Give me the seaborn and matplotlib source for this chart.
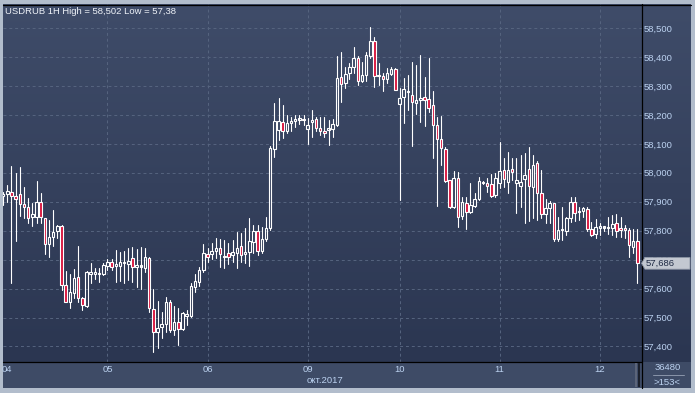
import numpy as np
import pandas as pd
import seaborn as sns
import matplotlib.pyplot as plt
from matplotlib.colors import LinearSegmentedColormap
from matplotlib.patches import Rectangle, Polygon
from matplotlib.lines import Line2D

# hourly candles, USDRUB, 03.10 last hour .. 12.10
opens = [
    57.920, 57.928, 57.932, 57.919, 57.927, 57.891, 57.881, 57.846, 57.848, 57.898,
    57.843, 57.753, 57.777, 57.799, 57.817, 57.612, 57.555, 57.584, 57.639, 57.566,
    57.541, 57.649, 57.651, 57.650, 57.650, 57.678, 57.692, 57.678, 57.679, 57.687,
    57.684, 57.705, 57.676, 57.676, 57.672, 57.705, 57.528, 57.449, 57.466, 57.477,
    57.553, 57.457, 57.483, 57.459, 57.506, 57.506, 57.606, 57.624, 57.664, 57.718,
    57.718, 57.731, 57.739, 57.709, 57.722, 57.716, 57.722, 57.748, 57.718, 57.727,
    57.762, 57.799, 57.730, 57.771, 57.810, 58.081, 58.147, 58.174, 58.144, 58.171,
    58.180, 58.183, 58.186, 58.150, 58.177, 58.186, 58.154, 58.141, 58.148, 58.150,
    58.165, 58.330, 58.309, 58.344, 58.364, 58.395, 58.318, 58.338, 58.404, 58.455,
    58.338, 58.334, 58.324, 58.341, 58.357, 58.236, 58.261, 58.278, 58.269, 58.240,
    58.252, 58.261, 58.255, 58.234, 58.165, 58.116, 58.081, 57.975, 57.883, 57.981,
    57.851, 57.897, 57.863, 57.886, 57.908, 57.969, 57.964, 57.960, 57.923, 57.964,
    58.009, 57.969, 58.013, 57.964, 57.955, 57.977, 58.012, 57.952, 58.035, 57.929,
    57.858, 57.877, 57.894, 57.770, 57.802, 57.798, 57.843, 57.900, 57.869, 57.869,
    57.875, 57.805, 57.787, 57.810, 57.810, 57.808, 57.810, 57.825, 57.810, 57.810,
    57.802, 57.745, 57.765,
]
highs = [
    57.935, 57.958, 58.023, 57.998, 58.019, 57.950, 57.912, 57.897, 57.971, 57.929,
    57.845, 57.837, 57.871, 57.820, 57.820, 57.661, 57.650, 57.668, 57.747, 57.570,
    57.661, 57.687, 57.672, 57.672, 57.687, 57.702, 57.702, 57.733, 57.727, 57.730,
    57.739, 57.745, 57.736, 57.742, 57.741, 57.708, 57.598, 57.557, 57.520, 57.570,
    57.560, 57.540, 57.532, 57.518, 57.526, 57.618, 57.649, 57.675, 57.753, 57.739,
    57.757, 57.774, 57.771, 57.768, 57.757, 57.768, 57.796, 57.791, 57.808, 57.843,
    57.820, 57.820, 57.813, 57.848, 58.092, 58.242, 58.257, 58.234, 58.199, 58.194,
    58.199, 58.199, 58.199, 58.190, 58.217, 58.194, 58.194, 58.194, 58.182, 58.186,
    58.403, 58.416, 58.366, 58.380, 58.433, 58.403, 58.384, 58.416, 58.502, 58.470,
    58.378, 58.346, 58.363, 58.364, 58.361, 58.292, 58.326, 58.338, 58.384, 58.372,
    58.407, 58.332, 58.395, 58.282, 58.194, 58.196, 58.088, 57.976, 58.006, 58.004,
    57.917, 57.917, 57.963, 57.931, 57.984, 57.972, 57.981, 57.995, 57.998, 58.108,
    58.050, 58.073, 58.050, 58.050, 58.061, 58.067, 58.090, 58.061, 58.041, 58.010,
    57.908, 57.902, 57.895, 57.848, 57.883, 57.848, 57.917, 57.917, 57.883, 57.883,
    57.883, 57.831, 57.839, 57.826, 57.817, 57.846, 57.854, 57.857, 57.846, 57.820,
    57.808, 57.805, 57.805,
]
lows = [
    57.889, 57.900, 57.618, 57.764, 57.852, 57.843, 57.825, 57.817, 57.825, 57.825,
    57.719, 57.710, 57.748, 57.776, 57.595, 57.553, 57.534, 57.566, 57.555, 57.526,
    57.537, 57.618, 57.633, 57.624, 57.647, 57.664, 57.664, 57.623, 57.626, 57.618,
    57.630, 57.624, 57.605, 57.598, 57.658, 57.518, 57.380, 57.394, 57.428, 57.451,
    57.449, 57.440, 57.405, 57.456, 57.474, 57.503, 57.589, 57.610, 57.656, 57.691,
    57.702, 57.705, 57.676, 57.672, 57.685, 57.693, 57.670, 57.693, 57.687, 57.679,
    57.722, 57.716, 57.722, 57.765, 57.802, 58.056, 58.113, 58.119, 58.136, 58.145,
    58.159, 58.167, 58.164, 58.099, 58.125, 58.144, 58.130, 58.122, 58.097, 58.122,
    58.161, 58.245, 58.292, 58.323, 58.344, 58.303, 58.315, 58.318, 58.395, 58.297,
    58.303, 58.283, 58.311, 58.338, 58.286, 57.906, 58.173, 58.217, 58.092, 58.203,
    58.176, 58.162, 58.211, 58.050, 57.886, 58.027, 57.967, 57.880, 57.880, 57.812,
    57.839, 57.805, 57.860, 57.883, 57.906, 57.960, 57.935, 57.917, 57.917, 57.946,
    57.950, 57.931, 57.975, 57.860, 57.883, 57.825, 57.833, 57.843, 57.837, 57.843,
    57.825, 57.825, 57.765, 57.765, 57.768, 57.785, 57.831, 57.835, 57.837, 57.846,
    57.800, 57.782, 57.774, 57.786, 57.800, 57.788, 57.785, 57.779, 57.779, 57.774,
    57.710, 57.722, 57.620,
]
closes = [
    57.928, 57.937, 57.919, 57.909, 57.891, 57.881, 57.843, 57.856, 57.898, 57.846,
    57.753, 57.777, 57.794, 57.816, 57.612, 57.555, 57.587, 57.637, 57.566, 57.543,
    57.656, 57.658, 57.656, 57.654, 57.681, 57.691, 57.676, 57.686, 57.693, 57.691,
    57.695, 57.673, 57.680, 57.678, 57.708, 57.532, 57.449, 57.463, 57.477, 57.553,
    57.457, 57.483, 57.459, 57.514, 57.511, 57.609, 57.626, 57.664, 57.722, 57.710,
    57.731, 57.739, 57.718, 57.714, 57.710, 57.725, 57.739, 57.716, 57.727, 57.764,
    57.799, 57.730, 57.771, 57.808, 58.087, 58.179, 58.179, 58.145, 58.171, 58.179,
    58.187, 58.187, 58.182, 58.164, 58.182, 58.154, 58.144, 58.139, 58.151, 58.167,
    58.326, 58.306, 58.341, 58.364, 58.395, 58.317, 58.338, 58.407, 58.455, 58.335,
    58.334, 58.324, 58.346, 58.357, 58.286, 58.257, 58.289, 58.279, 58.243, 58.251,
    58.258, 58.252, 58.223, 58.165, 58.116, 58.084, 57.973, 57.883, 57.981, 57.848,
    57.900, 57.863, 57.888, 57.908, 57.973, 57.964, 57.955, 57.921, 57.981, 58.006,
    57.978, 58.009, 58.004, 57.975, 57.969, 57.992, 57.954, 58.027, 57.929, 57.858,
    57.879, 57.894, 57.770, 57.802, 57.805, 57.843, 57.900, 57.862, 57.864, 57.877,
    57.805, 57.785, 57.812, 57.815, 57.812, 57.811, 57.823, 57.800, 57.803, 57.803,
    57.750, 57.764, 57.687,
]

day_labels = ["04", "05", "06", "09", "10", "11", "12"]
day_starts = [1, 25, 49, 73, 95, 119, 143]
price_ticks = [57.4, 57.5, 57.6, 57.7, 57.8, 57.9, 58.0, 58.1, 58.2, 58.3, 58.4, 58.5]
month_label = "окт.2017"
title = "USDRUB 1H High = 58,502 Low = 57,38"
last_price = 57.686
volume_text = "36480"
bars_text = ">153<"

W, H = 695, 393
TXT = "#bcd2f0"
RED = "#d8173f"


def box(x0, y0, x1, y1):
    """Pixel box (top-left origin) -> figure fraction rect."""
    return [x0 / W, 1 - y1 / H, (x1 - x0) / W, (y1 - y0) / H]


def pt(x, y):
    return (x / W, 1 - y / H)


sns.set_theme(style="dark")
plt.rcParams["font.family"] = ["Liberation Sans", "DejaVu Sans"]

fig = plt.figure(figsize=(W / 100, H / 100), dpi=100, facecolor="#b2bdcc")

# bottom time strip, behind everything else
fig.patches.append(Rectangle(pt(3, 388), 688 / W, 26 / H, transform=fig.transFigure,
                             facecolor="#3e4b66", edgecolor="none", zorder=-2))

# gradient panel behind plot and price scale
bg = fig.add_axes(box(3, 4, 691, 362))
bg.set_zorder(-1)
cmap = LinearSegmentedColormap.from_list("panel", ["#3f4c69", "#2b3651"])
bg.imshow(np.linspace(0, 1, 256).reshape(-1, 1), aspect="auto", cmap=cmap,
          extent=[0, 1, 0, 1])
bg.axis("off")

ax = fig.add_axes(box(3, 4, 641.5, 362))
ax.set_facecolor("none")

o = np.array(opens)
c = np.array(closes)
body_lo = np.minimum(o, c)
body_hi = np.maximum(o, c)
idx = np.arange(len(opens))

# wicks above and below the body, drawn as separate units
rows = []
for k in idx:
    rows += [(2 * k, k, highs[k]), (2 * k, k, body_hi[k]),
             (2 * k + 1, k, body_lo[k]), (2 * k + 1, k, lows[k])]
wicks = pd.DataFrame(rows, columns=["seg", "bar", "price"])
sns.lineplot(data=wicks, x="bar", y="price", units="seg", estimator=None, sort=False,
             color="white", lw=0.8, ax=ax, legend=False, zorder=2)

faces = [RED if cl < op else "none" for op, cl in zip(opens, closes)]
ax.bar(idx, np.maximum(body_hi - body_lo, 0.005), bottom=body_lo, width=0.6,
       color=faces, edgecolor="white", linewidth=0.8, zorder=3)

ax.set_xlim(-0.03, 153.0)
ax.set_ylim(57.3463, 58.583)
ax.set_xlabel("")
ax.set_ylabel("")

ax.grid(False)
for p in price_ticks:
    ax.axhline(p, color="#56647f", lw=0.7, ls=(0, (3, 3)), zorder=1)
for d in day_starts[1:]:
    ax.axvline(d, color="#56647f", lw=0.7, ls=(0, (3, 3)), zorder=1)

ax.set_xticks(day_starts, day_labels)
ax.yaxis.tick_right()
ax.set_yticks(price_ticks, [f"{p:.3f}".replace(".", ",") for p in price_ticks])
ax.tick_params(axis="x", length=0, pad=2.2, labelsize=6.8, labelcolor=TXT)
ax.tick_params(axis="y", length=0, pad=1.8, labelsize=6.8, labelcolor=TXT)
for s in ax.spines.values():
    s.set_visible(False)

# frame lines
for (x0, y0), (x1, y1) in [((3, 4.5), (691, 4.5)), ((641.5, 4), (641.5, 388)),
                           ((3, 361.5), (641.5, 361.5))]:
    fig.lines.append(Line2D([x0 / W, x1 / W], [1 - y0 / H, 1 - y1 / H],
                            transform=fig.transFigure, color="black", lw=0.9))

# last price marker
fig.patches.append(Polygon([pt(641.5, 263.3), pt(645, 257.5), pt(690, 257.5),
                            pt(690, 269.2), pt(645, 269.2)], closed=True,
                           transform=fig.transFigure, facecolor="#c3c8d1",
                           edgecolor="#8c94a4", lw=0.6, zorder=2))
fig.text(646 / W, 1 - 263.5 / H, f"{last_price:.3f}".replace(".", ","),
         fontsize=6.8, color="#1f2a44", va="center", ha="left", zorder=4)

# scroll marks in the time strip
fig.patches.append(Rectangle(pt(635, 387), 2.2 / W, 24 / H, transform=fig.transFigure,
                             facecolor="#5b6479", edgecolor="none", zorder=2))
fig.patches.append(Rectangle(pt(638.2, 387), 2 / W, 24 / H, transform=fig.transFigure,
                             facecolor="#1b202c", edgecolor="none", zorder=2))

fig.text(5 / W, 1 - 11 / H, title, fontsize=6.8, color="#eef2f8", va="center", ha="left")
fig.text(325 / W, 1 - 380.5 / H, month_label, fontsize=6.8, color=TXT,
         va="center", ha="center")
fig.text(667.5 / W, 1 - 368 / H, volume_text, fontsize=6.8, color=TXT,
         va="center", ha="center")
fig.lines.append(Line2D([653 / W, 684 / W], [1 - 375 / H, 1 - 375 / H],
                        transform=fig.transFigure, color="#8a95aa", lw=0.7))
fig.text(667 / W, 1 - 382.5 / H, bars_text, fontsize=6.8, color=TXT,
         va="center", ha="center")

fig.savefig("out.png", dpi=100, facecolor=fig.get_facecolor())
